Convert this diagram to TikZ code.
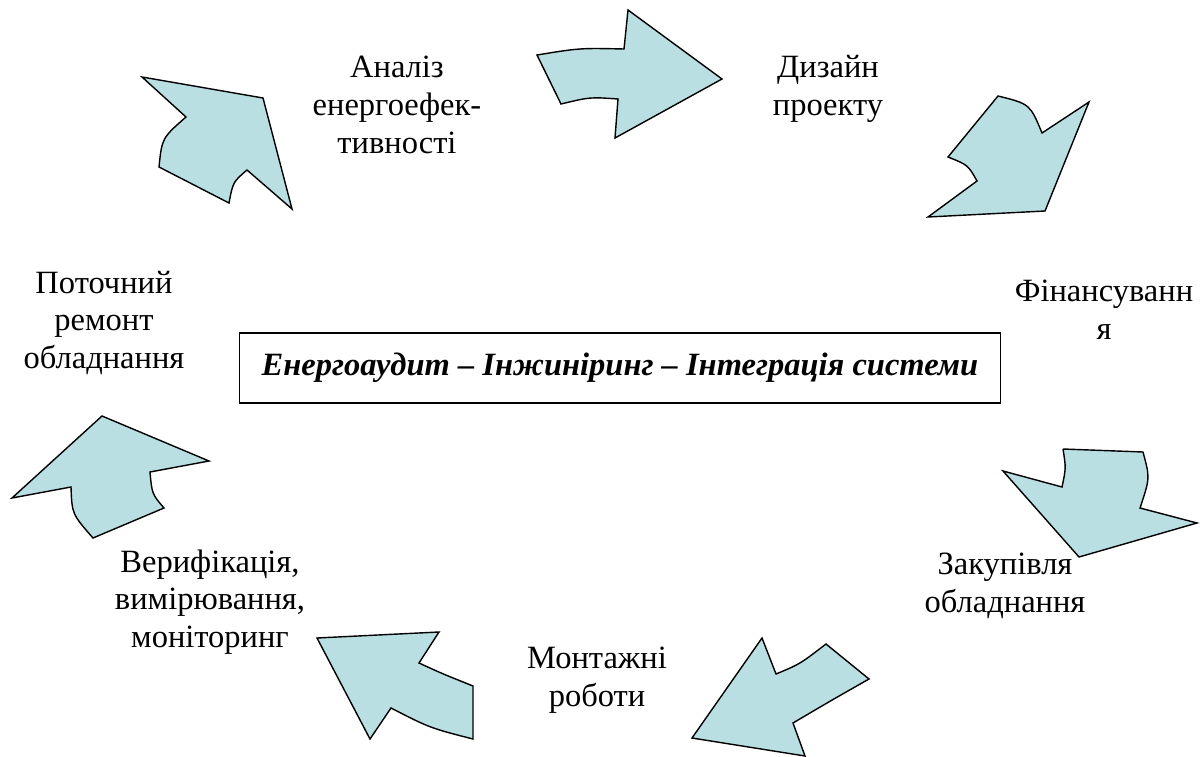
\documentclass[tikz,border=0pt]{standalone}
\usepackage{fontspec}
\setmainfont{Liberation Serif}
\usetikzlibrary{positioning}

\definecolor{arrowblue}{RGB}{185,223,227}

\tikzset{
    stage/.style={align=center, inner sep=0pt, font=\fontsize{18.5}{21.5}\selectfont},
    cyclearrow/.style={fill=arrowblue, draw=black, line width=0.8pt, line join=miter}
}

\begin{document}
\begin{tikzpicture}[x=0.02cm, y=-0.02cm]
        \useasboundingbox (0,0) rectangle (1200,757);

        % Arrow: analysis -> design
        \filldraw[cyclearrow] (537,55) .. controls (580,48) .. (624,49) -- (628,10) -- (722,79) -- (615,138)
            -- (618,99) .. controls (590,97) .. (561,104) -- cycle;

        % Arrow: design -> financing
        \filldraw[cyclearrow] (998,96) .. controls (1030,104) .. (1042,133) -- (1089,102) -- (1045,211)
            -- (928,217) -- (977,181) .. controls (968,165) .. (948,157) -- cycle;

        % Arrow: financing -> purchase
        \filldraw[cyclearrow] (1063,449) -- (1143,452) .. controls (1150,478) .. (1140,508) -- (1197,523)
            -- (1079,557) -- (1003,471) -- (1062,487) .. controls (1066,468) .. (1063,449);

        % Arrow: purchase -> installation
        \filldraw[cyclearrow] (762,638) -- (776,674) .. controls (800,664) .. (826,644) -- (869,679)
            .. controls (832,700) .. (793,723) -- (805,756) -- (692,738) -- cycle;

        % Arrow: installation -> verification
        \filldraw[cyclearrow] (317,638) -- (439,632) -- (419,663) .. controls (443,674) .. (473,686)
            -- (473,739) .. controls (430,728) .. (391,708) -- (370,739) -- cycle;

        % Arrow: verification -> repair
        \filldraw[cyclearrow] (102,416) -- (209,461) -- (150,472) .. controls (152,494) .. (164,508)
            -- (93,538) .. controls (72,514) .. (71,487) -- (12,498) -- cycle;

        % Arrow: repair -> analysis
        \filldraw[cyclearrow] (263,98) -- (292,209) -- (247,170) .. controls (233,182) .. (229,203)
            -- (159,167) .. controls (162,138) .. (186,117) -- (142,77) -- cycle;

        % Stage labels
        \node[stage] (analysis) at (397,105) {Аналіз\\енергоефек-\\тивності};
        \node[stage] (design) at (828,89) {Дизайн\\проекту};
        \node[stage] (finance) at (1104,310) {Фінансуванн\\я};
        \node[stage] (purchase) at (1005,586) {Закупівля\\обладнання};
        \node[stage] (install) at (597,680) {Монтажні\\роботи};
        \node[stage] (verify) at (210,602) {Верифікація,\\вимірювання,\\моніторинг};
        \node[stage] (repair) at (104,323) {Поточний\\ремонт\\обладнання};

        % Central box
        \node[draw, line width=0.9pt, minimum width=15.22cm, minimum height=1.4cm,
              font=\fontsize{18.5}{21.5}\selectfont\bfseries\itshape] (core) at (620,368)
              {Енергоаудит – Інжиніринг – Інтеграція системи};
    \end{tikzpicture}
\end{document}
